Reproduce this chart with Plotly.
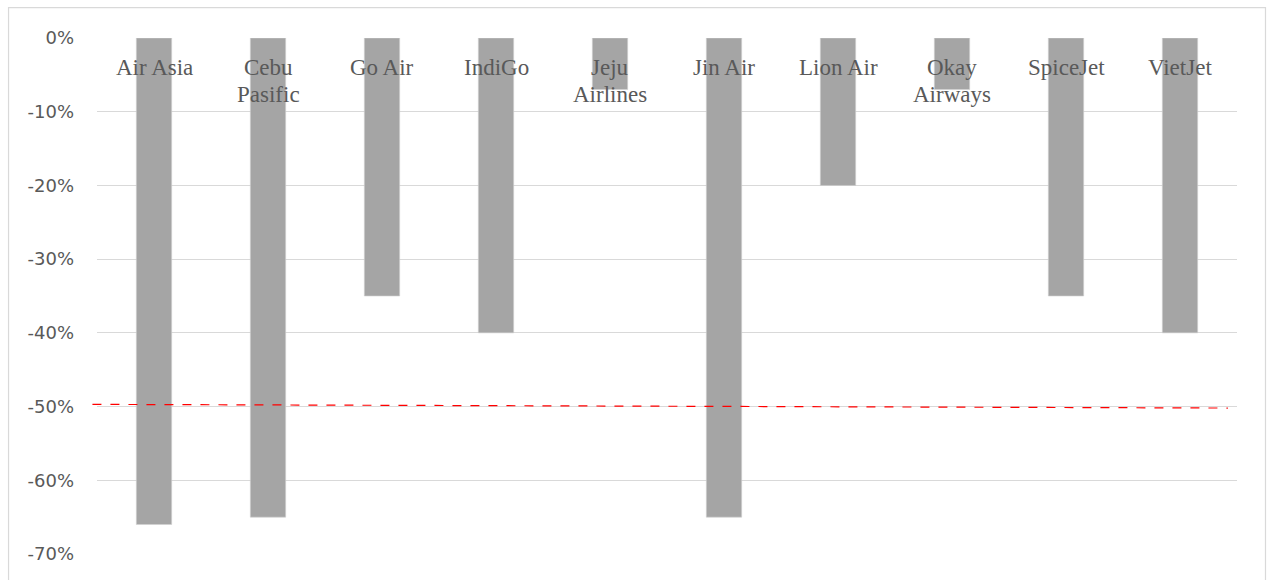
import plotly.graph_objects as go

airlines = ["Air Asia", "Cebu Pasific", "Go Air", "IndiGo", "Jeju Airlines",
            "Jin Air", "Lion Air", "Okay Airways", "SpiceJet", "VietJet"]
label_line1 = ["Air Asia", "Cebu", "Go Air", "IndiGo", "Jeju",
               "Jin Air", "Lion Air", "Okay", "SpiceJet", "VietJet"]
label_line2 = ["", "Pasific", "", "", "Airlines", "", "", "Airways", "", ""]
change_pct = [-66, -65, -35, -40, -7, -65, -20, -7, -35, -40]
ref_line_y = [-49.7, -50.2]
y_ticks = [0, -10, -20, -30, -40, -50, -60, -70]
y_tick_text = ["0%", "-10%", "-20%", "-30%", "-40%", "-50%", "-60%", "-70%"]

fig = go.Figure()
fig.add_trace(go.Bar(
    x=airlines, y=change_pct, width=0.31,
    marker=dict(color="#a5a5a5", line=dict(color="#d0d0d0", width=0.6)),
    hoverinfo="skip", showlegend=False,
))

annotations = []
for name, l1, l2 in zip(airlines, label_line1, label_line2):
    annotations.append(dict(x=name, y=0, xref="x", yref="y", text=l1,
                            showarrow=False, yanchor="middle", yshift=-29,
                            font=dict(family="Liberation Serif", size=23, color="#595959")))
    if l2:
        annotations.append(dict(x=name, y=0, xref="x", yref="y", text=l2,
                                showarrow=False, yanchor="middle", yshift=-56,
                                font=dict(family="Liberation Serif", size=23, color="#595959")))

shapes = [
    dict(type="line", xref="paper", yref="y", x0=-0.004, x1=0.992,
         y0=ref_line_y[0], y1=ref_line_y[1],
         line=dict(color="#ff0000", width=1.2, dash="dash"), layer="above"),
    dict(type="rect", xref="paper", yref="paper", x0=-0.0776, x1=1.025,
         y0=-0.08, y1=1.059, line=dict(color="#d9d9d9", width=1.2),
         fillcolor="rgba(0,0,0,0)", layer="below"),
]

fig.update_layout(
    width=1273, height=580,
    margin=dict(l=97, r=36, t=38, b=26),
    paper_bgcolor="white", plot_bgcolor="white",
    annotations=annotations, shapes=shapes,
    xaxis=dict(showticklabels=False, showgrid=False, zeroline=False,
               showline=False, ticks=""),
    yaxis=dict(range=[-70, 0], tickvals=y_ticks, ticktext=y_tick_text,
               showgrid=True, gridcolor="#d9d9d9", gridwidth=1.2,
               zeroline=False, showline=False, ticks="",
               ticklabelstandoff=22,
               tickfont=dict(family="DejaVu Sans", size=18, color="#595959")),
    bargap=0.69,
)

fig.write_html("out.html")
